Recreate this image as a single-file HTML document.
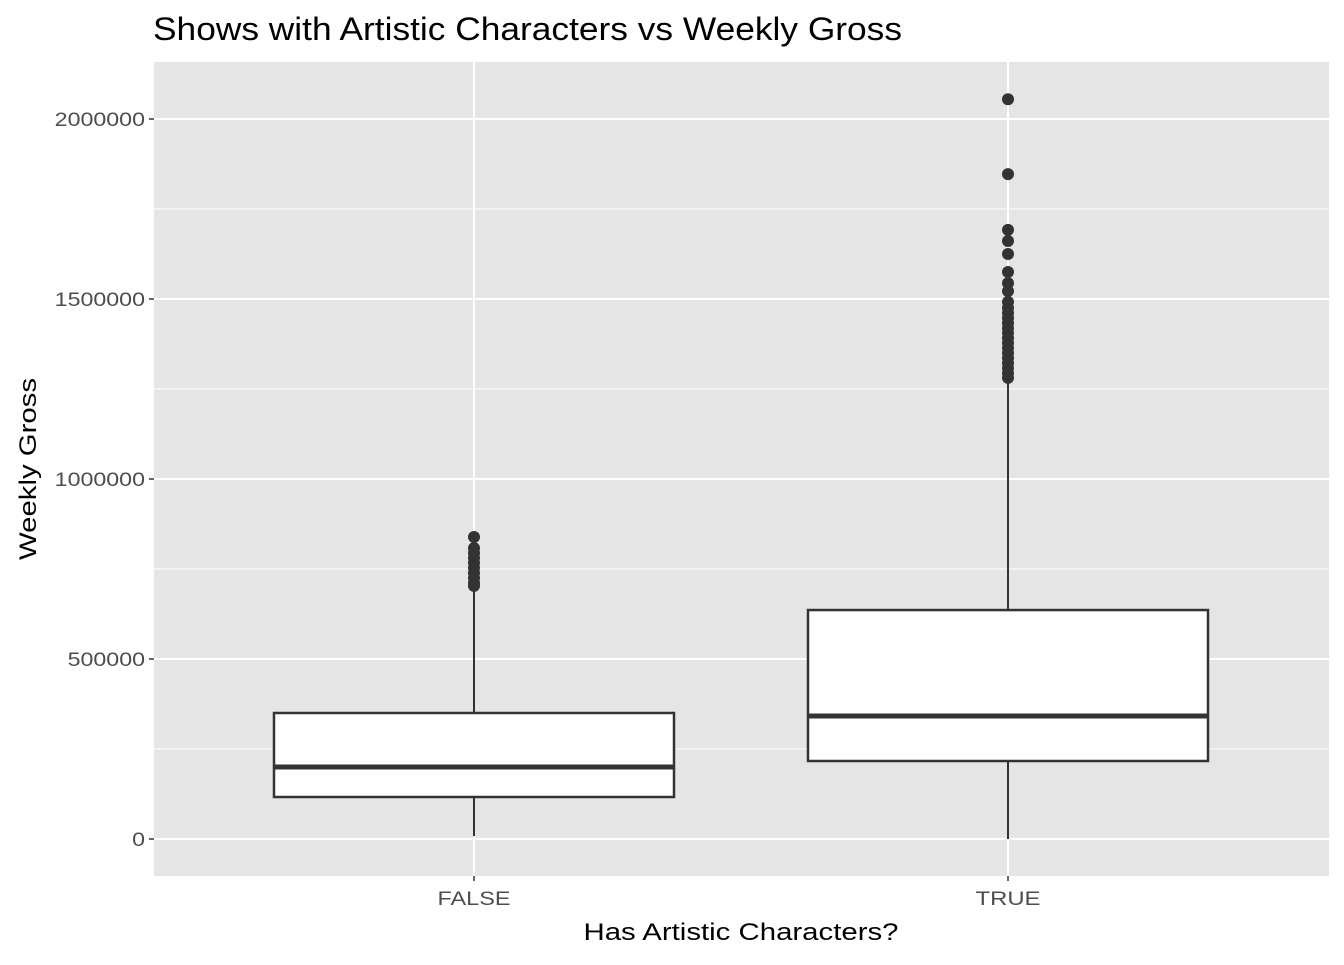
<!DOCTYPE html>
<html><head><meta charset="utf-8"><style>
body{margin:0;background:#fff;}
svg text{font-family:"Liberation Sans",Arial,sans-serif;}
</style></head><body>
<svg id="chart" width="1344" height="960" xmlns="http://www.w3.org/2000/svg"></svg>
<script>
const categories=["FALSE","TRUE"];
const q1=[116667,216667];
const medians=[200000,341667];
const q3=[350000,636000];
const whiskerLow=[8000,0];
const whiskerHigh=[692000,1267000];
const outliersFalse=[839000,808000,794000,781000,767000,753000,739000,725000,711000,703000];
const outliersTrue=[2055000,1847000,1692000,1661000,1625000,1575000,1544000,1522000,1492000,1475000,1461000,1447000,1433000,1419000,1406000,1392000,1378000,1364000,1350000,1336000,1322000,1308000,1294000,1281000];
const outliers=[outliersFalse,outliersTrue];
const yTicks=[0,500000,1000000,1500000,2000000];
const yTickLabels=["0","500000","1000000","1500000","2000000"];

const NS="http://www.w3.org/2000/svg";
const svg=document.getElementById('chart');
const P={l:154,r:1329,t:62,b:876};
const y=v=>839-v*0.00036;
const x=i=>474+i*534;
function el(t,a,p){const e=document.createElementNS(NS,t);for(const k in a)e.setAttribute(k,a[k]);(p||svg).appendChild(e);return e;}
const bg=el('rect',{x:P.l,y:P.t,width:P.r-P.l,height:P.b-P.t,fill:'#e5e5e5'});


for(let i=0;i<yTicks.length-1;i++){const m=(yTicks[i]+yTicks[i+1])/2;
 const g=el('line',{x1:P.l,x2:P.r,y1:y(m),y2:y(m),stroke:'#fff','stroke-width':1});
 
 }
yTicks.forEach((t,i)=>{
 const g=el('line',{x1:P.l,x2:P.r,y1:y(t),y2:y(t),stroke:'#fff','stroke-width':2});
 
 
 el('line',{x1:P.l-5,x2:P.l,y1:y(t),y2:y(t),stroke:'#333','stroke-width':1.5});
 const lab=yTickLabels[i];
 const tx=el('text',{x:P.l-9,y:y(t)+7,'text-anchor':'end','font-size':19,fill:'#4d4d4d',textLength:lab.length*12.9,lengthAdjust:'spacingAndGlyphs'});
 tx.textContent=lab;
 
 
});
const xLabW=[73,65];
categories.forEach((c,i)=>{
 const cx=x(i);
 const g=el('line',{x1:cx,x2:cx,y1:P.t,y2:P.b,stroke:'#fff','stroke-width':2});
 
 
 el('line',{x1:cx,x2:cx,y1:P.b,y2:P.b+5,stroke:'#333','stroke-width':1.5});
 const tx=el('text',{x:cx,y:P.b+29,'text-anchor':'middle','font-size':19,fill:'#4d4d4d',textLength:xLabW[i],lengthAdjust:'spacingAndGlyphs'});
 tx.textContent=c;
 
 
});
categories.forEach((c,i)=>{
 const cx=x(i),hw=200;
 const g=el('g',{});
 
 
 el('line',{x1:cx,x2:cx,y1:y(whiskerLow[i]),y2:y(whiskerHigh[i]),stroke:'#333','stroke-width':2},g);
 el('rect',{x:cx-hw,y:y(q3[i]),width:2*hw,height:y(q1[i])-y(q3[i]),fill:'#fff',stroke:'#333','stroke-width':2.5},g);
 el('line',{x1:cx-hw,x2:cx+hw,y1:y(medians[i]),y2:y(medians[i]),stroke:'#333','stroke-width':5},g);
 outliers[i].forEach(v=>{
  const p=el('circle',{cx:cx,cy:y(v),r:6,fill:'#333'},g);
  
  
 });
});
function T(txt,a,name){const t=el('text',Object.assign({lengthAdjust:'spacingAndGlyphs'},a));t.textContent=txt;
 
 }
T('Shows with Artistic Characters vs Weekly Gross',{x:153,y:40,'font-size':32,fill:'#000',textLength:749},'chart-title');
T('Has Artistic Characters?',{x:741,y:940,'text-anchor':'middle','font-size':24,fill:'#000',textLength:315},'x-axis-title');
T('Weekly Gross',{x:0,y:0,transform:'translate(36,469) rotate(-90)','text-anchor':'middle','font-size':24,fill:'#000',textLength:182},'y-axis-title');
</script>
</body></html>
